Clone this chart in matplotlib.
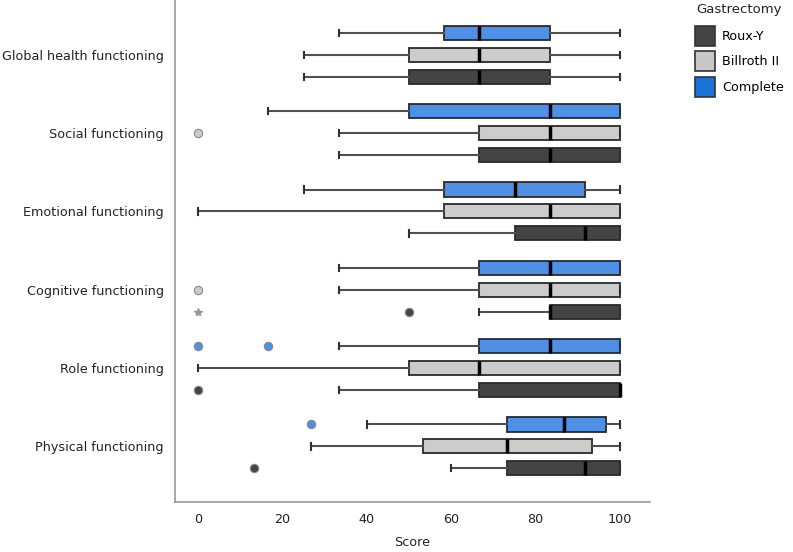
import matplotlib
matplotlib.use('Agg')
import matplotlib.pyplot as plt
from matplotlib.patches import Patch

# domains, top to bottom
categories = ['Global health functioning', 'Social functioning', 'Emotional functioning',
              'Cognitive functioning', 'Role functioning', 'Physical functioning']

# Complete gastrectomy
complete_lo = [33.3, 16.7, 25, 33.3, 33.3, 40]
complete_q1 = [58.3, 50, 58.3, 66.7, 66.7, 73.3]
complete_med = [66.7, 83.3, 75, 83.3, 83.3, 86.7]
complete_q3 = [83.3, 100, 91.7, 100, 100, 96.7]
complete_hi = [100, 100, 100, 100, 100, 100]
complete_out = [[], [], [], [], [0, 16.7], [26.7]]

# Billroth II
billroth_lo = [25, 33.3, 0, 33.3, 0, 26.7]
billroth_q1 = [50, 66.7, 58.3, 66.7, 50, 53.3]
billroth_med = [66.7, 83.3, 83.3, 83.3, 66.7, 73.3]
billroth_q3 = [83.3, 100, 100, 100, 100, 93.3]
billroth_hi = [100, 100, 100, 100, 100, 100]
billroth_out = [[], [0], [], [0], [], []]

# Roux-Y
rouxy_lo = [25, 33.3, 50, 66.7, 33.3, 60]
rouxy_q1 = [50, 66.7, 75, 83.3, 66.7, 73.3]
rouxy_med = [66.7, 83.3, 91.7, 83.3, 100, 91.7]
rouxy_q3 = [83.3, 100, 100, 100, 100, 100]
rouxy_hi = [100, 100, 100, 100, 100, 100]
rouxy_out = [[], [], [], [50], [0], [13.3]]
rouxy_extreme = [[], [], [], [0], [], []]

groups = [
    ('Complete', -0.28, '#4f90e6', '#1a73d9', complete_lo, complete_q1, complete_med, complete_q3, complete_hi, complete_out),
    ('Billroth II', 0.0, '#cccccc', '#c8c8c8', billroth_lo, billroth_q1, billroth_med, billroth_q3, billroth_hi, billroth_out),
    ('Roux-Y', 0.28, '#444444', '#444444', rouxy_lo, rouxy_q1, rouxy_med, rouxy_q3, rouxy_hi, rouxy_out),
]

plt.rcParams['font.family'] = ['DejaVu Sans']
fs = 9.2
fig = plt.figure(figsize=(7.93, 5.52), dpi=100)
ax = fig.add_axes([175 / 793, 50 / 552, (650 - 175) / 793, 502 / 552])

for name, off, col, lcol, lo, q1, med, q3, hi, out in groups:
    stats = []
    for i in range(len(categories)):
        stats.append({'whislo': lo[i], 'q1': q1[i], 'med': med[i], 'q3': q3[i],
                      'whishi': hi[i], 'fliers': out[i]})
    pos = [i + off for i in range(len(categories))]
    ax.bxp(stats, positions=pos, widths=0.18, orientation='horizontal',
           patch_artist=True, showfliers=True, capwidths=0.08,
           boxprops=dict(facecolor=col, edgecolor='#2a2a2a', linewidth=1.3),
           medianprops=dict(color='black', linewidth=2.5),
           whiskerprops=dict(color='#505050', linewidth=1.5),
           capprops=dict(color='#303030', linewidth=1.5),
           flierprops=dict(marker='o', markersize=6, markerfacecolor=col,
                           markeredgecolor='#888888', markeredgewidth=0.8))

for i, vals in enumerate(rouxy_extreme):
    for v in vals:
        ax.plot(v, i + 0.28, marker='*', color='#999999', markersize=6, linestyle='none')

ax.set_xlim(-5.45, 107.1)
ax.set_ylim(5.71, -0.70)
ax.set_xticks([0, 20, 40, 60, 80, 100])
ax.set_yticks(range(len(categories)))
ax.set_yticklabels(categories)
ax.tick_params(axis='both', length=0, labelsize=fs, colors='#222222')
ax.tick_params(axis='x', pad=8)
ax.tick_params(axis='y', pad=8)
ax.set_xlabel('Score', fontsize=fs, color='#222222', labelpad=7)

for s in ['top', 'right']:
    ax.spines[s].set_visible(False)
for s in ['left', 'bottom']:
    ax.spines[s].set_color('#999999')
    ax.spines[s].set_linewidth(1.2)

# legend title as separate text to get the larger gap of the original
fig.text(696 / 793, 1 - 10 / 552, 'Gastrectomy', fontsize=fs + 0.3, color='#222222',
         ha='left', va='center')
handles = [Patch(facecolor=g[3], edgecolor='#333333', linewidth=1.2, label=g[0]) for g in reversed(groups)]
fig.legend(handles=handles, loc='upper left',
           bbox_to_anchor=(695 / 793, 1 - 26 / 552), frameon=False, fontsize=fs,
           handlelength=1.55, handleheight=2.0,
           labelspacing=0.45, handletextpad=0.55,
           borderpad=0, borderaxespad=0)

fig.savefig('out.png', dpi=100)
